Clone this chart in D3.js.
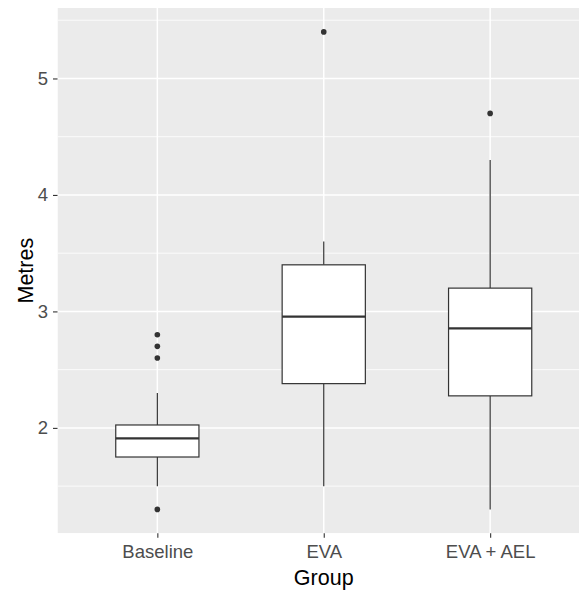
<!DOCTYPE html>
<html>
<head>
<meta charset="utf-8">
<script src="https://cdn.jsdelivr.net/npm/d3@7"></script>
<style>
  html, body { margin: 0; padding: 0; background: #fff; }
  svg { display: block; font-family: "Liberation Sans", Arial, sans-serif; }
</style>
</head>
<body>
<svg id="chart" width="579" height="590"></svg>
<script>
// Groups along the x axis
const groups = ["Baseline", "EVA", "EVA + AEL"];
// Five-number summaries per group (metres)
const whiskerLow  = [1.5, 1.5, 1.3];
const quartile1   = [1.75, 2.38, 2.275];
const medians     = [1.91, 2.955, 2.855];
const quartile3   = [2.025, 3.4, 3.2];
const whiskerHigh = [2.3, 3.6, 4.3];
// Outlying observations per group
const outliers = [[2.8, 2.7, 2.6, 1.3], [5.4], [4.7]];
// Axis ticks
const yTicks = [2, 3, 4, 5];
const yMinor = [1.5, 2.5, 3.5, 4.5, 5.5];

const svg = d3.select("#chart");
const panel = { left: 57.5, top: 8, right: 590, bottom: 533.3 };

// Discrete x scale with 0.6 unit padding on each side
const x = d3.scalePoint()
  .domain(groups)
  .range([panel.left, panel.right])
  .padding(0.6);
const step = x.step();
const boxWidth = step * 0.5;

// Continuous y scale with 5% expansion around the data range
const allVals = whiskerLow.concat(whiskerHigh, outliers.flat());
const lo = d3.min(allVals), hi = d3.max(allVals);
const pad = (hi - lo) * 0.05;
const y = d3.scaleLinear()
  .domain([lo - pad, hi + pad])
  .range([panel.bottom, panel.top]);

svg.append("defs").append("clipPath").attr("id", "panelClip")
  .append("rect")
  .attr("x", panel.left).attr("y", panel.top)
  .attr("width", panel.right - panel.left).attr("height", panel.bottom - panel.top);

const g = svg.append("g").attr("clip-path", "url(#panelClip)");

// Panel background
g.append("rect")
  .attr("x", panel.left).attr("y", panel.top)
  .attr("width", panel.right - panel.left).attr("height", panel.bottom - panel.top)
  .attr("fill", "#EBEBEB");

// Minor grid lines
g.selectAll("line.minor").data(yMinor).join("line")
  .attr("class", "minor")
  .attr("x1", panel.left).attr("x2", panel.right)
  .attr("y1", d => y(d)).attr("y2", d => y(d))
  .attr("stroke", "#fff").attr("stroke-width", 0.8);

// Major grid lines
g.selectAll("line.majorY").data(yTicks).join("line")
  .attr("class", "majorY")
  .attr("x1", panel.left).attr("x2", panel.right)
  .attr("y1", d => y(d)).attr("y2", d => y(d))
  .attr("stroke", "#fff").attr("stroke-width", 1.5);

g.selectAll("line.majorX").data(groups).join("line")
  .attr("class", "majorX")
  .attr("x1", d => x(d)).attr("x2", d => x(d))
  .attr("y1", panel.top).attr("y2", panel.bottom)
  .attr("stroke", "#fff").attr("stroke-width", 1.5);

// Box plots
const boxes = g.selectAll("g.box").data(groups).join("g").attr("class", "box");
const lineColor = "#333333";

boxes.append("line") // upper whisker
  .attr("x1", d => x(d)).attr("x2", d => x(d))
  .attr("y1", (d, i) => y(quartile3[i])).attr("y2", (d, i) => y(whiskerHigh[i]))
  .attr("stroke", lineColor).attr("stroke-width", 1.2);

boxes.append("line") // lower whisker
  .attr("x1", d => x(d)).attr("x2", d => x(d))
  .attr("y1", (d, i) => y(quartile1[i])).attr("y2", (d, i) => y(whiskerLow[i]))
  .attr("stroke", lineColor).attr("stroke-width", 1.2);

boxes.append("rect")
  .attr("x", d => x(d) - boxWidth / 2)
  .attr("width", boxWidth)
  .attr("y", (d, i) => y(quartile3[i]))
  .attr("height", (d, i) => y(quartile1[i]) - y(quartile3[i]))
  .attr("fill", "#fff")
  .attr("stroke", lineColor).attr("stroke-width", 1.2);

boxes.append("line") // median
  .attr("x1", d => x(d) - boxWidth / 2).attr("x2", d => x(d) + boxWidth / 2)
  .attr("y1", (d, i) => y(medians[i])).attr("y2", (d, i) => y(medians[i]))
  .attr("stroke", lineColor).attr("stroke-width", 2.3);

boxes.each(function (d, i) {
  d3.select(this).selectAll("circle").data(outliers[i]).join("circle")
    .attr("cx", x(d)).attr("cy", v => y(v))
    .attr("r", 2.8)
    .attr("fill", lineColor);
});

// Axes
const tickColor = "#333333";
const labelColor = "#4D4D4D";
const tickFont = "18.5px";

const yAxis = svg.append("g")
  .attr("transform", `translate(${panel.left},0)`)
  .call(d3.axisLeft(y).tickValues(yTicks).tickSize(4.5).tickPadding(5).tickFormat(d3.format("d")));
yAxis.select(".domain").remove();
yAxis.selectAll(".tick line").attr("stroke", tickColor).attr("stroke-width", 1.1);
yAxis.selectAll(".tick text")
  .attr("fill", labelColor).style("font-size", tickFont)
  .style("font-family", "'Liberation Sans', Arial, sans-serif");

const xAxis = svg.append("g")
  .attr("transform", `translate(0,${panel.bottom})`)
  .call(d3.axisBottom(x).tickSize(4.5).tickPadding(7.5));
xAxis.select(".domain").remove();
xAxis.selectAll(".tick line").attr("stroke", tickColor).attr("stroke-width", 1.1);
xAxis.selectAll(".tick text")
  .attr("fill", labelColor).style("font-size", tickFont)
  .style("font-family", "'Liberation Sans', Arial, sans-serif");

// Axis titles
svg.append("text")
  .attr("x", (panel.left + panel.right) / 2)
  .attr("y", 585)
  .attr("text-anchor", "middle")
  .attr("fill", "#000")
  .style("font-size", "21.5px")
  .text("Group");

svg.append("text")
  .attr("transform", `translate(32.5,${(panel.top + panel.bottom) / 2}) rotate(-90)`)
  .attr("text-anchor", "middle")
  .attr("fill", "#000")
  .style("font-size", "21.5px")
  .text("Metres");
</script>
</body>
</html>
